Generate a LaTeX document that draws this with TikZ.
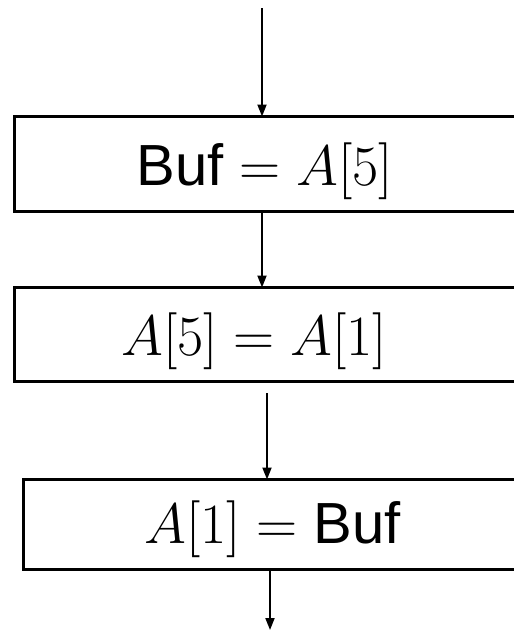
\RequirePackage{fix-cm}
\documentclass[tikz,border=0pt]{standalone}
\usepackage{amssymb, amsmath}
\usepackage{fontspec}
\setsansfont{Liberation Sans}
\usepackage{tikz}
\usetikzlibrary{arrows.meta}

% variable name set upright in sans
\newcommand{\bufvar}{\text{\fontsize{29}{34}\selectfont\sffamily Buf}}

\tikzset{
  stepbox/.style={draw=black, line width=1.5pt, rectangle, inner sep=0pt, outer sep=0pt},
  steptext/.style={anchor=base, inner sep=0pt, font=\fontsize{28.5}{34}\selectfont},
  flow/.style={black, line width=0.9pt, -{Triangle[length=6pt, width=4.5pt]}}
}

\begin{document}
\begin{tikzpicture}[x=0.5pt, y=-0.5pt]
        \useasboundingbox (0,0) rectangle (514,632);
        \clip (0,0) rectangle (514,632);

        % boxes (open to the right)
        \node[stepbox, minimum width=272.75pt, minimum height=47.5pt] (box1) at (287.25,164) {};
        \node[stepbox, minimum width=272.75pt, minimum height=47pt] (box2) at (287.25,334.5) {};
        \node[stepbox, minimum width=268.5pt, minimum height=45pt] (box3) at (291.5,524.5) {};

        % Buf = A[5]
        \node[steptext] (swap1) at (265,185) {$\bufvar = A[5]$};
        % A[5] = A[1]
        \node[steptext] (swap2) at (254.5,355) {$A[5] = A[1]$};
        % A[1] = Buf
        \node[steptext] (swap3) at (272.5,543) {$A[1] = \bufvar$};

        % flow arrows
        \coordinate (in) at (262,8);
        \coordinate (mid) at (267,393);
        \coordinate (out) at (270,630);
        \draw[flow] (in) -- (in |- box1.north);
        \draw[flow] (box1.south -| in) -- (box2.north -| in);
        \draw[flow] (mid) -- (mid |- box3.north);
        \draw[flow] (box3.south -| out) -- (out);
    \end{tikzpicture}
\end{document}
